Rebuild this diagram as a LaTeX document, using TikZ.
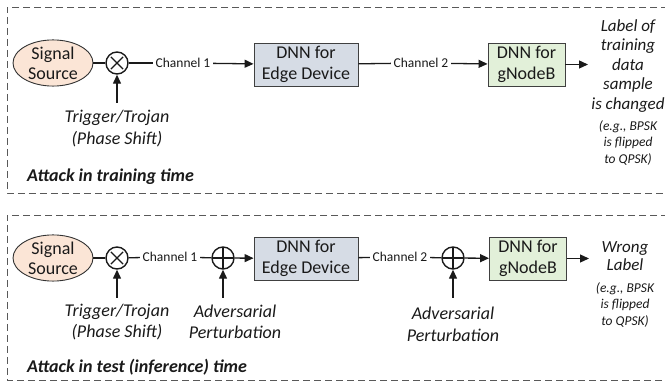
\documentclass[tikz,border=0pt]{standalone}
\usepackage{fontspec}
\setmainfont{Carlito}
\usetikzlibrary{arrows.meta,shapes.geometric}
\definecolor{srcfill}{HTML}{FBE5D6}
\definecolor{edgefill}{HTML}{D6DCE5}
\definecolor{gnbfill}{HTML}{E2F0D9}
\definecolor{txt}{HTML}{1A1A1A}
\begin{document}
\begin{tikzpicture}[x=1pt,y=-1pt,
  dframe/.style={draw=black!65, dash pattern=on 7pt off 4pt, line width=0.9pt},
  src/.style={ellipse, draw=black!80, fill=srcfill, line width=0.9pt, minimum width=80pt, minimum height=46pt, inner sep=0pt, align=center, font=\fontsize{18}{20}\selectfont},
  dnnbox/.style={rectangle, draw=black!75, line width=0.9pt, minimum height=43pt, inner sep=0pt, align=center, font=\fontsize{18}{20.5}\selectfont},
  mulnode/.style={circle, draw, line width=1.4pt, minimum size=22pt, inner sep=0pt,
    path picture={\draw[line width=1.4pt] ([shift={(45:8.5pt)}]path picture bounding box.center) -- ([shift={(225:8.5pt)}]path picture bounding box.center);
                  \draw[line width=1.4pt] ([shift={(135:8.5pt)}]path picture bounding box.center) -- ([shift={(315:8.5pt)}]path picture bounding box.center);}},
  addnode/.style={circle, draw, line width=1.4pt, minimum size=22pt, inner sep=0pt,
    path picture={\draw[line width=1.4pt] (path picture bounding box.north) -- (path picture bounding box.south);
                  \draw[line width=1.4pt] (path picture bounding box.west) -- (path picture bounding box.east);}},
  chan/.style={font=\fontsize{13.5}{15}\selectfont, inner sep=2.5pt},
  lbl/.style={align=center, font=\itshape\fontsize{17}{19.5}\selectfont, inner sep=0pt},
  notetxt/.style={align=center, font=\itshape\fontsize{13.5}{16.5}\selectfont, inner sep=0pt},
  ttl/.style={anchor=west, font=\bfseries\itshape\fontsize{18}{20}\selectfont, inner sep=0pt},
  wire/.style={line width=1.3pt},
  arr/.style={wire, -{Triangle[length=9pt,width=8pt]}}
]
\clip (0,0) rectangle (665,382);
\fill[white] (0,0) rectangle (665,382);
\color{txt}
% frames
\draw[dframe] (690,7) -- (7,7) -- (7,193) -- (690,193);
\draw[dframe] (690,215) -- (7,215) -- (7,380) -- (690,380);

% ---------- top: training time ----------
\node[src] (src1) at (53,63) {Signal\\Source};
\node[mulnode] (mul1) at (117,63) {};
\node[chan] (ch1a) at (183,63) {Channel 1};
\node[dnnbox, fill=edgefill, minimum width=104pt] (edge1) at (306,64.5) {DNN for\\Edge Device};
\node[chan] (ch2a) at (421,63) {Channel 2};
\node[dnnbox, fill=gnbfill, minimum width=77pt] (gnb1) at (526.5,64.5) {DNN for\\gNodeB};
\coordinate (out1) at (588,64.5);
\node[lbl] (lab1) at (628,66) {Label of\\training\\data\\sample\\is changed};
\node[notetxt] (note1) at (628,143) {(e.g., BPSK\\is flipped\\to QPSK)};
\node[lbl, font=\itshape\fontsize{18}{22}\selectfont] (trig1) at (117,129) {Trigger/Trojan\\(Phase Shift)};
\node[ttl] (t1) at (27,177) {Attack in training time};

\draw[wire] (src1) -- (mul1);
\draw[wire] (mul1) -- (ch1a);
\draw[arr] (ch1a) -- (edge1);
\draw[wire] (edge1) -- (ch2a);
\draw[arr] (ch2a) -- (gnb1);
\draw[arr] (gnb1) -- (out1);
\draw[arr] (mul1 |- 0,103) -- (mul1.south);

% ---------- bottom: test time ----------
\node[src] (src2) at (53,258) {Signal\\Source};
\node[mulnode] (mul2) at (117,258) {};
\node[chan] (ch1b) at (170,257) {Channel 1};
\node[addnode] (add1) at (223,258) {};
\node[dnnbox, fill=edgefill, minimum width=104pt] (edge2) at (306,258.5) {DNN for\\Edge Device};
\node[chan] (ch2b) at (400,257) {Channel 2};
\node[addnode] (add2) at (453,258) {};
\node[dnnbox, fill=gnbfill, minimum width=77pt] (gnb2) at (528,258.5) {DNN for\\gNodeB};
\coordinate (out2) at (589,258.5);
\node[lbl, font=\itshape\fontsize{17}{18}\selectfont] (lab2) at (625,256) {Wrong\\Label};
\node[notetxt] (note2) at (625,305) {(e.g., BPSK\\is flipped\\to QPSK)};
\node[lbl, font=\itshape\fontsize{18}{21}\selectfont] (trig2) at (117,322) {Trigger/Trojan\\(Phase Shift)};
\node[lbl, font=\itshape\fontsize{18}{21}\selectfont] (adv1) at (235,322) {Adversarial\\Perturbation};
\node[lbl, font=\itshape\fontsize{18}{22}\selectfont] (adv2) at (453,324) {Adversarial\\Perturbation};
\node[ttl] (t2) at (27,367) {Attack in test (inference) time};

\draw[wire] (src2) -- (mul2);
\draw[wire] (mul2) -- (ch1b);
\draw[wire] (ch1b) -- (add1);
\draw[arr] (add1) -- (edge2);
\draw[wire] (edge2) -- (ch2b);
\draw[wire] (ch2b) -- (add2);
\draw[arr] (add2) -- (gnb2);
\draw[arr] (gnb2) -- (out2);
\draw[arr] (mul2 |- 0,298) -- (mul2.south);
\draw[arr] (add1 |- 0,298) -- (add1.south);
\draw[arr] (add2 |- 0,298) -- (add2.south);
\end{tikzpicture}
\end{document}
